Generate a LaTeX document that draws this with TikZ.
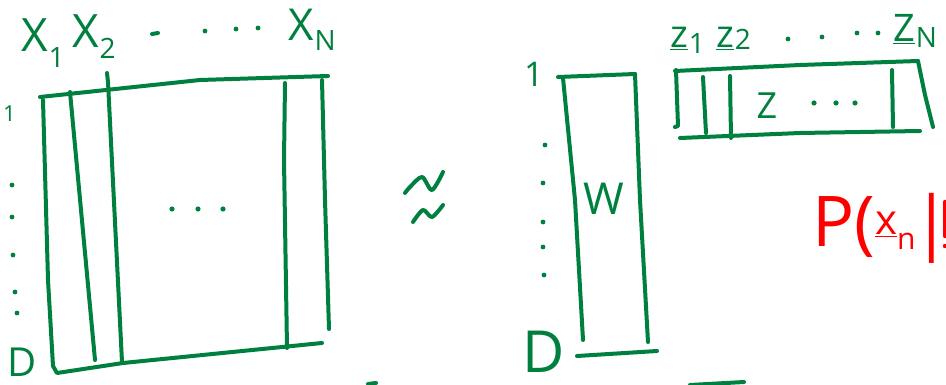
\documentclass[tikz,border=0pt]{standalone}
\usepackage{fontspec}
\setmainfont{Open Sans}
\definecolor{inkgreen}{RGB}{0,128,62}
\definecolor{inkred}{RGB}{255,0,0}
\newcommand{\inklabel}[3]{#1\hspace{1pt}\raisebox{#3}{\fontsize{28}{28}\selectfont #2}}
\tikzset{
  pen/.style={
    draw=inkgreen,
    line width=4pt,
    line cap=round,
    line join=round
  },
  redpen/.style={
    draw=inkred,
    line width=4.5pt,
    line cap=round
  },
  lbl/.style={
    text=inkgreen,
    inner sep=0pt,
    anchor=base west
  }
}
\begin{document}
\begin{tikzpicture}[x=1pt,y=-1pt]
\useasboundingbox (0,0) rectangle (946,385);

% data matrix X
\draw[pen] (40,97) -- (200,80) -- (328,76);
\draw[pen] (43,100) -- (48,280) -- (53,366) -- (57,373) -- (123,363) -- (322,343);
\draw[pen] (322,80) -- (325,200) -- (329,329);
\draw[pen] (70,92) -- (95,360);
\draw[pen] (107,73) -- (108,82) -- (122,362);
\draw[pen] (285,83) -- (284,160) -- (287,348);
\foreach \x in {172,198,223} \fill[inkgreen] (\x,209) circle (2.6pt);

\node[lbl, font=\fontsize{46}{46}\selectfont] (x1) at (21,52) {\inklabel{X}{1}{-16pt}};
\node[lbl, font=\fontsize{46}{46}\selectfont] (x2) at (72,48) {\inklabel{X}{2}{-11pt}};
\node[lbl, font=\fontsize{44}{44}\selectfont] (xN) at (288,41) {\inklabel{X}{N}{-10pt}};
\draw[pen] (152,34) -- (158,33);
\foreach \x/\y in {205/31,236/29,258/28} \fill[inkgreen] (\x,\y) circle (2.4pt);

% rows 1..D of X
\node[lbl, font=\fontsize{22}{22}\selectfont] (r1) at (3,122) {1};
\foreach \x/\y in {12/185,12/217,13/255,15/292,17/313} \fill[inkgreen] (\x,\y) circle (2.4pt);
\node[lbl, font=\fontsize{40}{40}\selectfont] (rD) at (7,376) {D};

% approx sign
\draw[pen] plot[smooth] coordinates {(405,193) (410,187) (422,177) (432,190) (443,172)};
\draw[pen] plot[smooth] coordinates {(413,222) (423,210) (432,217) (443,205)};

% W matrix
\draw[pen] (558,77) -- (635,74);
\draw[pen] (563,78) -- (575,200) -- (583,340);
\draw[pen] (635,74) -- (640,200) -- (648,342);
\draw[pen] (577,356) -- (657,351);
\node[text=inkgreen, font=\fontsize{44}{44}\selectfont] (w) at (604,199) {W};

\node[lbl, font=\fontsize{34}{34}\selectfont] (w1) at (524,87) {1};
\foreach \x/\y in {545/145,543/183,543/222,543/247,544/275} \fill[inkgreen] (\x,\y) circle (2.4pt);
\node[lbl, font=\fontsize{58}{58}\selectfont] (wD) at (522,372) {D};

% Z matrix
\draw[pen] (675,71) -- (800,65) -- (918,61);
\draw[pen] (676,70) -- (678,126) -- (675,127);
\draw[pen] (918,61) -- (925,95) -- (933,127);
\draw[pen] (680,138) -- (800,133) -- (920,131);
\draw[pen] (703,77) -- (706,133);
\draw[pen] (730,76) -- (731,138);
\draw[pen] (892,70) -- (893,127);
\node[text=inkgreen, font=\fontsize{36}{36}\selectfont] (z) at (767,106) {Z};
\foreach \x in {814,836,855} \fill[inkgreen] (\x,103) circle (2.6pt);

\node[lbl, font=\fontsize{38}{38}\selectfont] (z1) at (670,48) {\inklabel{\underline{z}}{1}{-6pt}};
\node[lbl, font=\fontsize{38}{38}\selectfont] (z2) at (716,48) {\inklabel{\underline{z}}{2}{-2pt}};
\node[lbl, font=\fontsize{38}{38}\selectfont] (zN) at (893,42) {\inklabel{\underline{Z}}{N}{-6pt}};
\foreach \x/\y in {788/39,822/37,857/33,878/33} \fill[inkgreen] (\x,\y) circle (2.4pt);

% likelihood
\node[lbl, text=inkred, font=\fontsize{70}{70}\selectfont] (lik) at (812,247)
  {P(\fontsize{42}{42}\selectfont\raisebox{12pt}{\underline{x}}\fontsize{30}{30}\selectfont\raisebox{-3pt}{n}\hspace{-3pt}\fontsize{70}{70}\selectfont|};
\draw[redpen] (945,202) -- (945,236);
\fill[inkred] (945,246) circle (2.2pt);

% cut-off strokes at the bottom
\draw[pen] (368,384) -- (376,383);
\draw[pen] (690,385) -- (744,382);
\end{tikzpicture}
\end{document}
